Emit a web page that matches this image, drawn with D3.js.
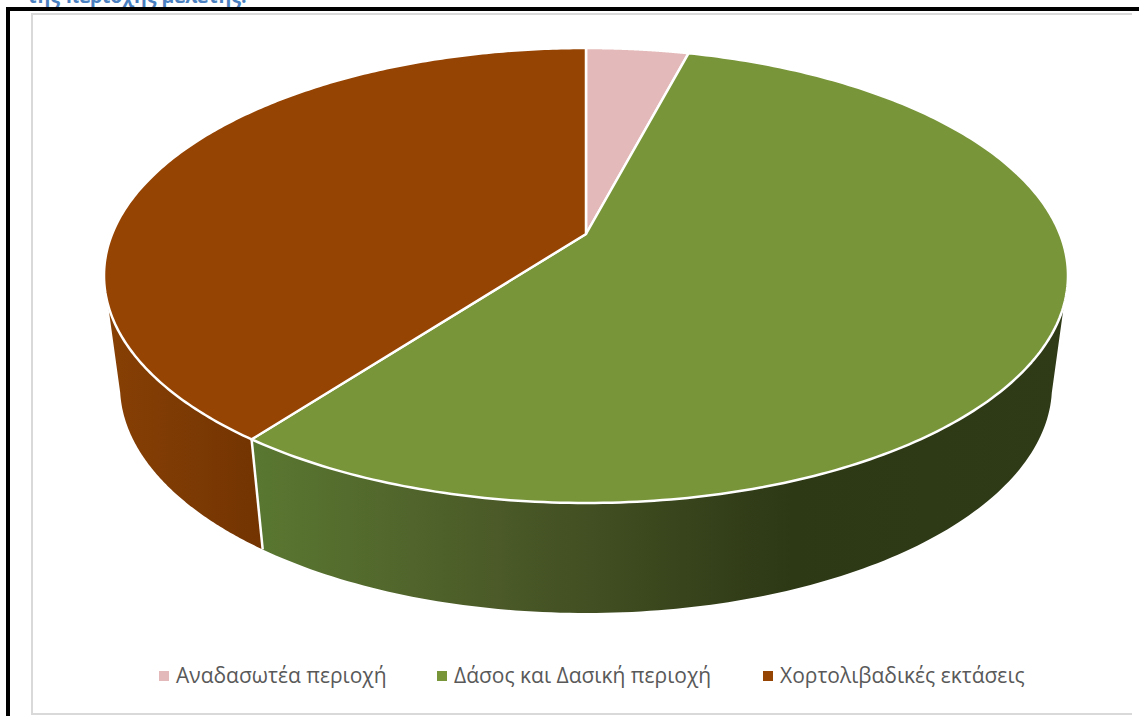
<!DOCTYPE html>
<html><head><meta charset="utf-8">
<script src="https://cdn.jsdelivr.net/npm/d3@7"></script>
<style>html,body{margin:0;padding:0;background:#fff;overflow:hidden}svg{display:block}</style>
</head><body><svg id="c" width="1139" height="716"></svg>
<script>
const categories = ["Αναδασωτέα περιοχή", "Δάσος και Δασική περιοχή", "Χορτολιβαδικές εκτάσεις"];
const values = [4.1, 56.2, 39.7];
const topColors = ["#e4b9b9", "#79953a", "#964403"];
const legendStarts = [159, 437, 763];
const captionText = "της περιοχής μελέτης.";

const svg = d3.select("#c");
// page furniture
svg.append("text").attr("x", 27).attr("y", 3).attr("font-family", "'Open Sans',sans-serif")
  .attr("font-weight", 700).attr("font-size", 19.5).attr("fill", "#4a80bf").text(captionText);
svg.append("path").attr("d", "M1132,14H32V714H1132").attr("fill", "none").attr("stroke", "#d9d9d9").attr("stroke-width", 2);
svg.append("path").attr("d", "M8,716V9H1139").attr("fill", "none").attr("stroke", "#000").attr("stroke-width", 4);

// pie geometry: perspective-projected disc
const top_ = {cx: 586, cy: 275.5, rx: 482, ry: 227.5};
const bot = {cx: 586, cy: 386, rx: 466, ry: 227};
const d = (234 - top_.cy) / top_.ry, s = Math.sqrt(1 - d * d);
const project = a => {
  const x = Math.sin(a), y = -Math.cos(a), w = 1 + d * y;
  return [x * s / w, (y + d) / w];
};
const place = (e, n) => [e.cx + e.rx * n[0], e.cy + e.ry * n[1]];
const line = d3.line();
const arcs = d3.pie().sort(null)(values);

const defs = svg.append("defs");
const gg = defs.append("linearGradient").attr("id", "gWall").attr("gradientUnits", "userSpaceOnUse")
  .attr("x1", 250).attr("x2", 1070).attr("y1", 0).attr("y2", 0);
[[0, "#5a7831"], [0.3, "#4b5a28"], [0.66, "#2d3815"], [1, "#2f3a17"]]
  .forEach(([o, c]) => gg.append("stop").attr("offset", o).attr("stop-color", c));
const bg = defs.append("linearGradient").attr("id", "bWall").attr("gradientUnits", "userSpaceOnUse")
  .attr("x1", 104).attr("x2", 262).attr("y1", 0).attr("y2", 0);
bg.append("stop").attr("offset", 0).attr("stop-color", "#874005");
bg.append("stop").attr("offset", 1).attr("stop-color", "#733402");

// walls
const phiTop = 0.13, phiBot = 0.03;
const boundary = project(arcs[2].startAngle);
const phiB = Math.atan2(boundary[1], boundary[0]);
const rim = (e, p0, p1) => d3.range(0, 121).map(i => {
  const p = p0 + (p1 - p0) * i / 120;
  return place(e, [Math.cos(p), Math.sin(p)]);
});
function wall(t0, t1, b0, b1, fill) {
  const pts = rim(top_, t0, t1).concat(rim(bot, b1, b0));
  svg.append("path").attr("d", line(pts) + "Z").attr("fill", fill);
}
wall(phiTop, phiB, phiBot, phiB, "url(#gWall)");
wall(phiB, Math.PI - phiTop, phiB, Math.PI - phiBot, "url(#bWall)");
svg.append("path").attr("d", line([place(top_, boundary), place(bot, boundary)]))
  .attr("stroke", "#fff").attr("stroke-width", 2.5).attr("fill", "none");

// top faces
const apex = place(top_, [0, d]);
arcs.forEach((a, i) => {
  const n = 240;
  const pts = d3.range(0, n + 1).map(k => place(top_, project(a.startAngle + (a.endAngle - a.startAngle) * k / n)));
  svg.append("path").attr("d", line([apex, ...pts]) + "Z").attr("fill", topColors[i])
    .attr("stroke", "#fff").attr("stroke-width", 2.5).attr("stroke-linejoin", "round");
});

// legend
const lx = d3.scaleOrdinal(categories, legendStarts);
const lg = svg.append("g").selectAll("g").data(categories).join("g");
lg.append("rect").attr("x", c => lx(c)).attr("y", 671).attr("width", 10).attr("height", 10)
  .attr("fill", (c, i) => topColors[i]);
lg.append("text").attr("x", c => lx(c) + 17).attr("y", 683).attr("font-family", "'Open Sans',sans-serif")
  .attr("font-size", 21).attr("fill", "#595959").text(c => c);
</script></body></html>
